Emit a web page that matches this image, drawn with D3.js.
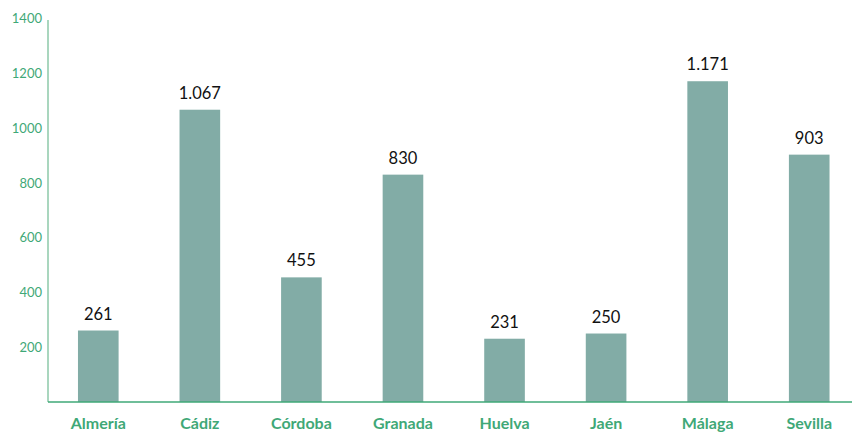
<!DOCTYPE html>
<html><head><meta charset="utf-8">
<script src="https://cdn.jsdelivr.net/npm/d3@7"></script>
<style>body{margin:0;background:#fff}svg{display:block}</style>
</head><body>
<svg id="c" width="852" height="433"></svg>
<script>
const categories = ["Almería","Cádiz","Córdoba","Granada","Huelva","Jaén","Málaga","Sevilla"];
const values = [261,1067,455,830,231,250,1171,903];
const yTicks = [200,400,600,800,1000,1200,1400];

const svg = d3.select("#c");
const mLeft = 48, mBottom = 402, mTop = 18.5;
const x = d3.scaleBand().domain(categories).range([47.5, 860]).paddingInner(0.6).paddingOuter(0.3);
const y = d3.scaleLinear().domain([0,1400]).range([mBottom, mTop]);
const green = "#3fa877";
const fmt = d3.formatLocale({decimal:",", thousands:".", grouping:[3], currency:["","€"]}).format(",d");

// bars
svg.append("g").selectAll("rect").data(values).join("rect")
  .attr("x",(d,i)=>x(categories[i]))
  .attr("width",x.bandwidth())
  .attr("y",d=>y(d))
  .attr("height",d=>mBottom-y(d))
  .attr("fill","#82aca6");

// value labels
svg.append("g").selectAll("text").data(values).join("text")
  .attr("x",(d,i)=>x(categories[i])+x.bandwidth()/2)
  .attr("y",d=>y(d)-11)
  .attr("text-anchor","middle")
  .attr("font-family","Lato")
  .attr("font-size",16.5)
  .attr("fill","#111")
  .text(d=>fmt(d));

// y axis
const ya = svg.append("g").attr("transform",`translate(${mLeft},0)`)
  .call(d3.axisLeft(y).tickValues(yTicks).tickSize(0).tickPadding(6).tickFormat(d3.format("d")));
ya.select(".domain").attr("stroke","#8cc9a8").attr("stroke-width",1.5).attr("d",`M0,${mBottom}V20`);
ya.selectAll("text").attr("font-family","Lato").attr("font-size",13).attr("fill",green);

// x axis
const xa = svg.append("g").attr("transform",`translate(0,${mBottom})`)
  .call(d3.axisBottom(x).tickSize(0).tickPadding(0));
xa.select(".domain").attr("stroke",green).attr("stroke-width",1.5).attr("d",`M${mLeft},0H852`);
xa.selectAll("text").attr("dy",null).attr("y",27).attr("font-family","Lato").attr("font-weight","bold").attr("font-size",16).attr("fill",green);
</script>
</body></html>
